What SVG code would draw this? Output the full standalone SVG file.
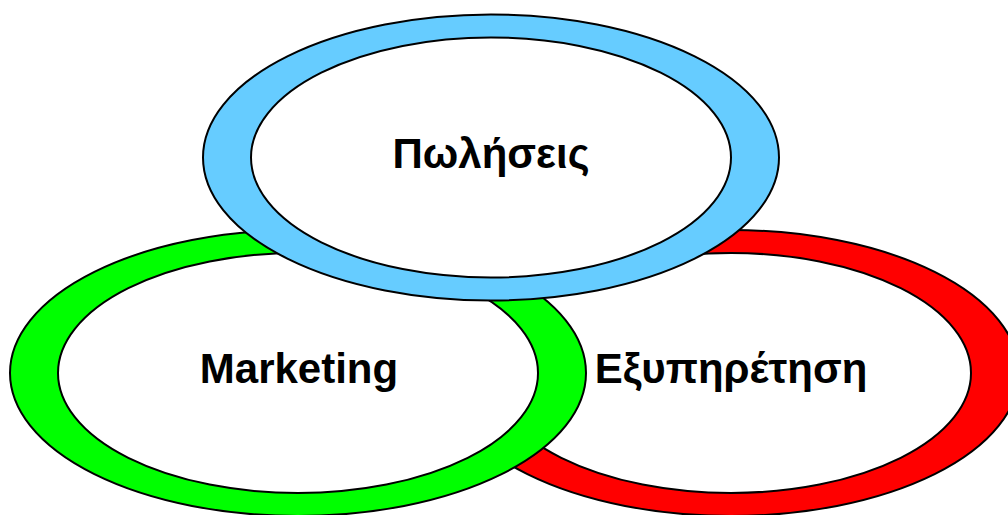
<svg xmlns="http://www.w3.org/2000/svg" width="1008" height="515" viewBox="0 0 1008 515">
  <style>
    .ring { stroke: #000; stroke-width: 2; }
    .hole { fill: #fff; stroke: #000; stroke-width: 2; }
    .label { font-family: "Liberation Sans", Arial, sans-serif; font-weight: bold; font-size: 42px; fill: #000; text-anchor: middle; }
  </style>
  <rect width="1008" height="515" fill="#fff"/>
  <!-- back ring -->
  <g id="service">
    <ellipse class="ring" cx="731" cy="373" rx="288" ry="143" fill="#ff0000"/>
    <ellipse class="hole" cx="731" cy="373" rx="240" ry="120"/>
    <text class="label" x="731" y="383">Εξυπηρέτηση</text>
  </g>
  <g id="marketing">
    <ellipse class="ring" cx="298" cy="373" rx="288" ry="143" fill="#00ff00"/>
    <ellipse class="hole" cx="298" cy="373" rx="240" ry="120"/>
    <text class="label" x="299" y="383">Marketing</text>
  </g>
  <!-- front ring -->
  <g id="sales">
    <ellipse class="ring" cx="491" cy="157.5" rx="288" ry="143" fill="#66ccff"/>
    <ellipse class="hole" cx="491" cy="157.5" rx="240" ry="120"/>
    <text class="label" x="491" y="168">Πωλήσεις</text>
  </g>
  <g id="connectors"/>
</svg>
